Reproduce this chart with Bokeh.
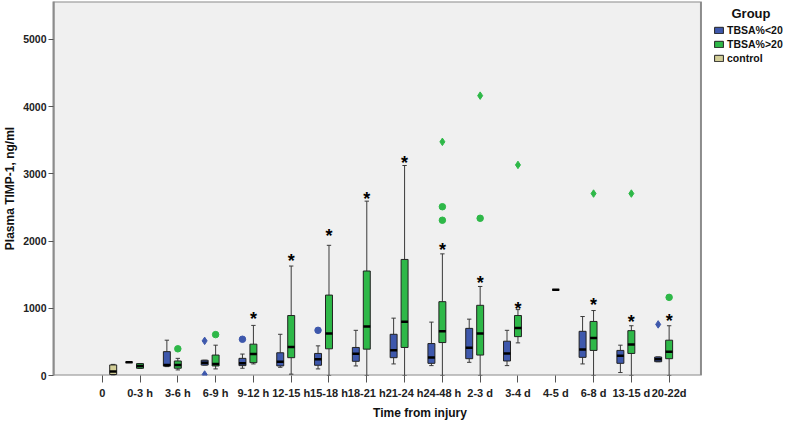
from bokeh.plotting import figure
from bokeh.models import (ColumnDataSource, Range1d, FixedTicker, Legend, LegendItem, Label,
                          BoxAnnotation)
from bokeh.transform import dodge
from bokeh.core.properties import value
from bokeh.embed import file_html
from bokeh.resources import INLINE

categories = ["0", "0-3 h", "3-6 h", "6-9 h", "9-12 h", "12-15 h", "15-18 h", "18-21 h",
              "21-24 h", "24-48 h", "2-3 d", "3-4 d", "4-5 d", "6-8 d", "13-15 d", "20-22d"]
groups = ["TBSA%<20", "TBSA%>20", "control"]
colors = ["#3E58AC", "#2EB848", "#D3CE97"]

# five-number summaries (None = no data in that group)
blue_low = [None, 196, 132, 155, 108, 122, 98, 142, 172, 147, 196, 147, None, 172, 44, 205]
blue_q1 = [None, 196, 140, 155, 147, 143, 152, 211, 265, 181, 250, 216, None, 270, 181, 205]
blue_med = [None, 196, 155, 191, 181, 206, 240, 324, 377, 269, 412, 328, None, 387, 294, 240]
blue_q3 = [None, 196, 355, 227, 255, 338, 328, 417, 613, 475, 701, 510, None, 657, 373, 275]
blue_high = [None, 196, 525, 227, 319, 613, 441, 672, 853, 794, 838, 672, None, 877, 451, 275]

green_low = [None, 107, 83, 98, 172, 20, 0, 0, 0, 0, 0, 485, 1275, 0, 0, 0]
green_q1 = [None, 107, 108, 142, 191, 265, 397, 392, 417, 490, 304, 578, 1275, 373, 328, 250]
green_med = [None, 142, 157, 172, 319, 422, 623, 730, 799, 657, 623, 706, 1275, 559, 461, 353]
green_q3 = [None, 177, 216, 304, 466, 892, 1196, 1554, 1726, 1098, 1044, 892, 1275, 804, 667, 525]
green_high = [None, 177, 255, 451, 745, 1628, 1936, 2593, 3123, 1809, 1324, 980, 1275, 966, 740, 740]

control_low = [5] + [None] * 15
control_q1 = [15] + [None] * 15
control_med = [60] + [None] * 15
control_q3 = [157] + [None] * 15
control_high = [165] + [None] * 15

# outliers
blue_out_cat = ["6-9 h", "6-9 h", "9-12 h", "15-18 h", "20-22d"]
blue_out_val = [515, 15, 539, 672, 760]
blue_out_marker = ["diamond", "diamond", "circle", "circle", "diamond"]

green_out_cat = ["3-6 h", "6-9 h", "24-48 h", "24-48 h", "24-48 h", "2-3 d", "2-3 d",
                 "3-4 d", "6-8 d", "13-15 d", "20-22d"]
green_out_val = [397, 608, 2510, 2309, 3475, 2338, 4162, 3132, 2706, 2706, 1162]
green_out_marker = ["circle", "circle", "circle", "circle", "diamond", "circle", "diamond",
                    "diamond", "diamond", "diamond", "circle"]

# significance stars
star_cat = ["9-12 h", "12-15 h", "15-18 h", "18-21 h", "21-24 h", "24-48 h", "2-3 d",
            "3-4 d", "6-8 d", "13-15 d", "20-22d"]
star_val = [917, 1775, 2142, 2706, 3230, 1936, 1446, 1064, 1127, 877, 892]

FONT = "Liberation Sans"
W, H = 786, 422
LEFT, TOP, BOTTOM = 49, 1, 45
FW = W - LEFT
FH = H - TOP - BOTTOM
CAT_PX = 38.0
FIRST_TICK_PX = 98
x0 = -(FIRST_TICK_PX - LEFT) / CAT_PX
x1 = x0 + FW / CAT_PX
PLOT_RIGHT = (700 - FIRST_TICK_PX) / CAT_PX
Y_PX = (FH + TOP - 39) / 5000.0
y_end = FH / Y_PX

p = figure(width=W, height=H, output_backend="svg", toolbar_location=None,
           x_range=Range1d(x0, x1), y_range=Range1d(0, y_end),
           min_border_left=LEFT, min_border_right=0, min_border_top=TOP,
           min_border_bottom=BOTTOM)
p.background_fill_color = "white"
p.border_fill_color = "white"
p.outline_line_color = None
p.xgrid.visible = False
p.ygrid.visible = False

p.add_layout(BoxAnnotation(left=x0, right=PLOT_RIGHT, bottom=0, top=y_end, level="underlay",
                           fill_color="#F0F0F0", fill_alpha=1,
                           line_color="#8c8c8c", line_width=2, line_alpha=1))

pos = {c: i for i, c in enumerate(categories)}
offsets = [-0.29, 0.0, 0.29]
BOX_W = 7 / CAT_PX
CAP = 2.2 / CAT_PX


def add_group(color, off, low, q1, med, q3, high):
    keep = [i for i, m in enumerate(med) if m is not None]
    src = ColumnDataSource(dict(
        x=[i for i in keep],
        low=[low[i] for i in keep], q1=[q1[i] for i in keep], med=[med[i] for i in keep],
        q3=[q3[i] for i in keep], high=[high[i] for i in keep]))
    xc = dodge("x", off)
    p.segment(x0=xc, y0="low", x1=xc, y1="q1", source=src, line_color="#3a3a3a", line_width=1)
    p.segment(x0=xc, y0="q3", x1=xc, y1="high", source=src, line_color="#3a3a3a", line_width=1)
    p.segment(x0=dodge("x", off - CAP), y0="high", x1=dodge("x", off + CAP), y1="high",
              source=src, line_color="#3a3a3a", line_width=1)
    p.segment(x0=dodge("x", off - CAP), y0="low", x1=dodge("x", off + CAP), y1="low",
              source=src, line_color="#3a3a3a", line_width=1)
    r = p.vbar(x=xc, width=BOX_W, bottom="q1", top="q3", source=src,
               fill_color=color, line_color="#222222", line_width=1)
    p.segment(x0=dodge("x", off - BOX_W / 2), y0="med", x1=dodge("x", off + BOX_W / 2), y1="med",
              source=src, line_color="black", line_width=2.5)
    return r


r_blue = add_group(colors[0], offsets[0], blue_low, blue_q1, blue_med, blue_q3, blue_high)
r_green = add_group(colors[1], offsets[1], green_low, green_q1, green_med, green_q3, green_high)
r_ctrl = add_group(colors[2], offsets[2], control_low, control_q1, control_med, control_q3, control_high)


def add_outliers(color, off, cats, vals, markers):
    src = ColumnDataSource(dict(x=[pos[c] for c in cats], y=vals, m=markers,
                                s=[7.5 if m == "diamond" else 6.5 for m in markers]))
    p.scatter(x=dodge("x", off), y="y", marker="m", size="s", source=src,
              fill_color=color, line_color=color)


add_outliers(colors[0], offsets[0], blue_out_cat, blue_out_val, blue_out_marker)
add_outliers(colors[1], offsets[1], green_out_cat, green_out_val, green_out_marker)

star_src = ColumnDataSource(dict(x=[pos[c] for c in star_cat], y=star_val, t=["*"] * len(star_cat)))
p.text(x=dodge("x", offsets[1]), y="y", text="t", source=star_src, text_font=value(FONT),
       text_font_style="bold", text_font_size="18px", text_align="center",
       text_baseline="middle", y_offset=5, text_color="black")

# axes
p.xaxis.ticker = FixedTicker(ticks=list(range(len(categories))))
p.xaxis.major_label_overrides = {i: c for i, c in enumerate(categories)}
p.yaxis.ticker = FixedTicker(ticks=[0, 1000, 2000, 3000, 4000, 5000])
for ax in (p.xaxis[0], p.yaxis[0]):
    ax.axis_line_color = "#8c8c8c"
    ax.axis_line_width = 2
    ax.major_tick_line_color = "#555555"
    ax.major_tick_in = 0
    ax.minor_tick_line_color = None
    ax.major_label_text_font = FONT
    ax.major_label_text_font_style = "bold"
    ax.major_label_text_color = "#222222"
    ax.axis_label_text_font = FONT
    ax.axis_label_text_font_style = "bold"
    ax.axis_label_text_font_size = "12px"
    ax.axis_label_text_color = "#111111"
p.xaxis.axis_line_color = None
p.xaxis.major_tick_out = 7
p.xaxis.major_label_standoff = 4
p.xaxis.major_label_text_font_size = "11px"
p.xaxis.axis_label = "Time from injury"
p.xaxis.axis_label_standoff = 4
p.yaxis.major_tick_out = 5
p.yaxis.major_label_standoff = 2
p.yaxis.major_label_text_font_size = "10.5px"
p.yaxis.axis_label = "Plasma TIMP-1, ng/ml"
p.yaxis.axis_label_standoff = 3

# legend (to the right of the grey plot area)
legend = Legend(items=[LegendItem(label=groups[0], renderers=[r_blue]),
                       LegendItem(label=groups[1], renderers=[r_green]),
                       LegendItem(label=groups[2], renderers=[r_ctrl])],
                location=(709 - LEFT, FH + TOP - 66), padding=0, margin=0, spacing=2,
                glyph_width=11, glyph_height=8, label_height=12, label_standoff=3,
                label_text_font=FONT, label_text_font_style="bold", label_text_font_size="10.5px",
                label_text_color="#111111", border_line_color=None, background_fill_alpha=0)
p.add_layout(legend, "center")
p.add_layout(Label(x=727 - LEFT, y=FH + TOP - 7, x_units="screen", y_units="screen", text="Group",
                   text_font=FONT, text_font_style="bold", text_font_size="13px",
                   text_baseline="top", text_color="#111111"))

open("out.html", "w").write(file_html(p, INLINE))
